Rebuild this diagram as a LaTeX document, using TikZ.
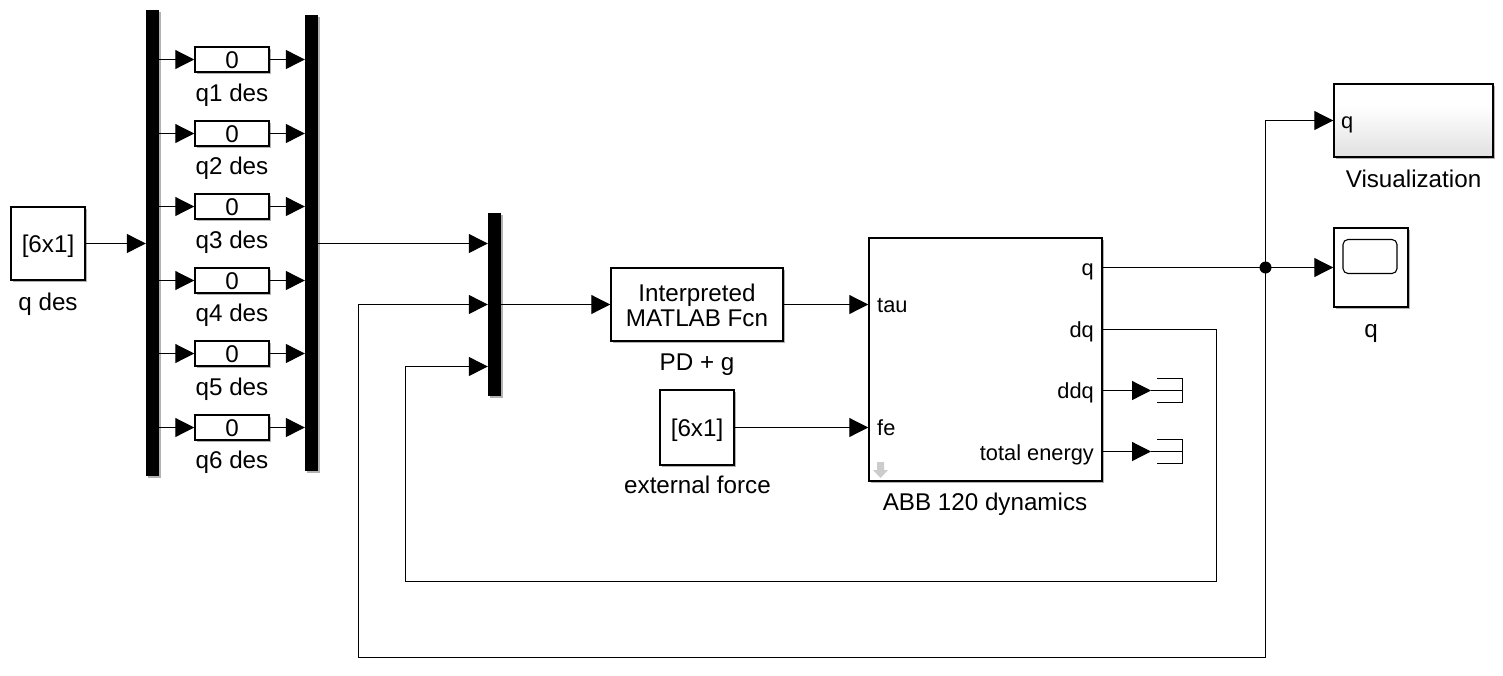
\documentclass[tikz,border=0pt]{standalone}
\usepackage{fontspec}
\setmainfont{Liberation Sans}
\usetikzlibrary{arrows.meta,shadows,calc}
\pgfdeclareverticalshading{visgrad}{100bp}{color(0bp)=(black!12); color(25bp)=(black!12); color(60bp)=(white); color(100bp)=(white)}
\tikzset{
  every node/.style={inner sep=0pt},
  txt/.style={font=\fontsize{24.2}{25}\selectfont},
  port/.style={font=\fontsize{21.8}{23}\selectfont},
  shad/.style={drop shadow={shadow xshift=2pt,shadow yshift=-2pt,opacity=.3,fill=black}},
  block/.style={draw=black,fill=white,line width=1.5pt,shad,txt,text height=17pt,text depth=0pt},
  src/.style={block,minimum width=74pt,minimum height=73pt},
  const/.style={block,minimum width=74pt,minimum height=25pt},
  bar/.style={fill=black,draw=none,minimum width=13pt,shad},
  lab/.style={txt,anchor=base},
  wire/.style={line width=1.2pt,draw=black},
  sig/.style={wire,-{Triangle[length=19pt,width=19pt]}},
  term/.style={line width=1.2pt,draw=black}
}
\begin{document}
\begin{tikzpicture}[x=1pt,y=-1pt]
\useasboundingbox (0,0) rectangle (1503,675);
% source and bars
\node[src] (qdes) at (48,243.5) {[6x1]};
\node[lab] (lqdes) at (48,310) {q des};
\node[bar,minimum height=466pt] (bara) at (152.5,243) {};
\node[bar,minimum height=456pt] (barb) at (311.5,243) {};
% constants
\node[const] (c1) at (232,59.5) {0};
\node[const] (c2) at (232,133.5) {0};
\node[const] (c3) at (232,206.5) {0};
\node[const] (c4) at (232,280.5) {0};
\node[const] (c5) at (232,353.5) {0};
\node[const] (c6) at (232,427.5) {0};
\node[lab] (l1) at (232,101) {q1 des};
\node[lab] (l2) at (232,174.5) {q2 des};
\node[lab] (l3) at (232,248) {q3 des};
\node[lab] (l4) at (232,321.5) {q4 des};
\node[lab] (l5) at (232,395) {q5 des};
\node[lab] (l6) at (232,468.5) {q6 des};
% mux
\node[bar,minimum height=183pt] (mux) at (494.5,304.5) {};
\coordinate (mux1) at (mux.west |- 0,243.5);
\coordinate (mux2) at (mux.west |- 0,304.5);
\coordinate (mux3) at (mux.west |- 0,366.5);
% function
\node[block,text height=,text depth=,align=center,minimum width=172pt,minimum height=73pt] (fcn) at (697,304.5) {\rule{0pt}{19pt}Interpreted\\MATLAB Fcn};
\node[lab] (lfcn) at (697,370) {PD + g};
\node[src,minimum height=75pt] (ext) at (697,427.5) {[6x1]};
\node[lab] (lext) at (697.5,493) {external force};
% dynamics
\node[block,minimum width=233pt,minimum height=243pt] (dyn) at (985.5,359.5) {};
\node[lab] (ldyn) at (985,510) {ABB 120 dynamics};
\node[port,anchor=base west] (ptau) at (877,312) {tau};
\node[port,anchor=base west] (pfe) at (877,435) {fe};
\node[port,anchor=base east] (pq) at (1094,275) {q};
\node[port,anchor=base east] (pdq) at (1094,337) {dq};
\node[port,anchor=base east] (pddq) at (1094,398) {ddq};
\node[port,anchor=base east] (pte) at (1094,460) {total energy};
\fill[gray!40] (877,462) -- (884,462) -- (884,470) -- (888,470) -- (880.5,478) -- (873,470) -- (877,470) -- cycle;
\coordinate (dynq) at (dyn.east |- 0,267.5);
\coordinate (dyndq) at (dyn.east |- 0,329.5);
\coordinate (dynddq) at (dyn.east |- 0,390.5);
\coordinate (dynte) at (dyn.east |- 0,451.5);
% visualization
\node[draw=black,line width=1.5pt,minimum width=159pt,minimum height=73pt,shad,shading=visgrad] (vis) at (1413.5,120.5) {};
\node[port,anchor=base west] (pvq) at (1341,128) {q};
\node[lab] (lvis) at (1413.5,187) {Visualization};
% scope
\node[block,minimum width=74pt,minimum height=79pt] (scope) at (1371,267.5) {};
\node[draw=black,line width=1.1pt,rounded corners=5pt,fill=white,minimum width=54pt,minimum height=34pt] (scr) at (1370,256.5) {};
\node[lab] (lscope) at (1371,337) {q};
% terminators
\coordinate (t1) at (1151,390.5);
\coordinate (t2) at (1151,451.5);
\draw[term] (1157,378.5) -- (1182.5,378.5) -- (1182.5,402.5) -- (1157,402.5);
\draw[term] (t1) -- (1182.5,390.5);
\draw[term] (1157,439.5) -- (1182.5,439.5) -- (1182.5,463.5) -- (1157,463.5);
\draw[term] (t2) -- (1182.5,451.5);
% connectors
\draw[sig] (qdes.east) -- (bara.west |- qdes.east);
\foreach \i in {1,...,6}{
  \draw[sig] (bara.east |- c\i.west) -- (c\i.west);
  \draw[sig] (c\i.east) -- (barb.west |- c\i.east);
}
\draw[sig] (barb.east |- mux1) -- (mux1);
\draw[sig] (mux.east) -- (fcn.west);
\draw[sig] (fcn.east) -- (dyn.west |- fcn.east);
\draw[sig] (ext.east) -- (dyn.west |- ext.east);
\coordinate (jn) at (1265.5,267.5);
\draw[sig] (dynq) -- (scope.west |- dynq);
\draw[sig] (jn) |- (vis.west);
\draw[sig] (dynddq) -- (t1);
\draw[sig] (dynte) -- (t2);
\draw[sig] (dyndq) -- (1216.5,329.5) -- (1216.5,581.5) -- (405.5,581.5) -- (405.5,366.5) -- (mux3);
\draw[sig] (jn) -- (1265.5,657.5) -- (358.5,657.5) -- (358.5,304.5) -- (mux2);
\fill[black] (jn) circle[radius=6pt];
\end{tikzpicture}
\end{document}
